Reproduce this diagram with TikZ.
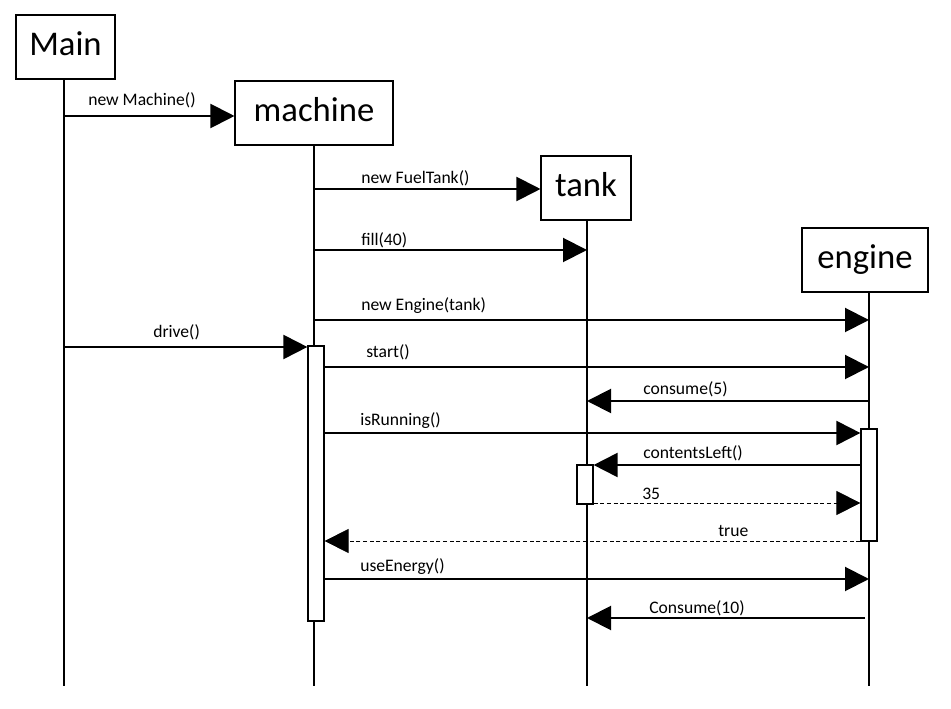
\documentclass[tikz,border=0pt]{standalone}
\usepackage{fontspec}
\setmainfont{Carlito}
\usetikzlibrary{arrows.meta}

\begin{document}
\begin{tikzpicture}[x=0.75pt,y=0.75pt,yscale=-1,xscale=1,
    obj/.style={draw, line width=0.8pt, inner sep=0pt, minimum height=48pt, text height=18pt, text depth=4.5pt, font=\fontsize{26}{30}\selectfont},
    act/.style={draw, line width=0.9pt, fill=white, inner sep=0pt, minimum width=12pt},
    life/.style={line width=1.3pt},
    msg/.style={line width=1.5pt, -{Triangle[length=18pt,width=18pt]}},
    reply/.style={line width=0.6pt, dash pattern=on 3pt off 2pt, -{Triangle[length=18pt,width=18pt]}},
    lbl/.style={anchor=base west, inner sep=0pt, font=\fontsize{13.2}{15}\selectfont}]

    \useasboundingbox (0,0) rectangle (951,709);

    % Objects
    \node [obj, minimum width=74.25pt] (Main) at (65.5,47) {Main};
    \node [obj, minimum width=118.5pt] (machine) at (314,113) {machine};
    \node [obj, minimum width=67.5pt] (tank) at (586,188) {tank};
    \node [obj, minimum width=94.5pt] (engine) at (865,260) {engine};

    % Lifelines
    \coordinate (mainL) at (64,686);
    \coordinate (machL) at (314,686);
    \coordinate (tankL) at (587,686);
    \coordinate (engL) at (869,686);
    \draw [life] (mainL |- Main.south) -- (mainL);
    \draw [life] (machL |- machine.south) -- (machL);
    \draw [life, line width=1pt] (tankL |- tank.south) -- (tankL);
    \draw [life, line width=1pt] (engL |- engine.south) -- (engL);

    % Activations
    \node [act, minimum height=206.25pt] (machAct) at (316,483.5) {};
    \node [act, minimum height=84pt] (engAct) at (869,485) {};
    \node [act, minimum height=29.25pt] (tankAct) at (585,484.5) {};

    % Messages
    \draw [msg] (mainL |- 0,116) -- (machine.west |- 0,116);
    \draw (88,106) node [lbl] {new Machine()};
    \draw [msg] (machL |- 0,189) -- (tank.west |- 0,189);
    \draw (361,184) node [lbl] {new FuelTank()};
    \draw [msg] (machL |- 0,250) -- (tankL |- 0,250);
    \draw (361,246) node [lbl] {fill(40)};
    \draw [msg] (machL |- 0,320) -- (engL |- 0,320);
    \draw (361,311) node [lbl] {new Engine(tank)};
    \draw [msg] (mainL |- 0,347) -- (machAct.west |- 0,347);
    \draw (153,338) node [lbl] {drive()};
    \draw [msg] (machAct.east |- 0,367) -- (engL |- 0,367);
    \draw (366,358) node [lbl] {start()};
    \draw [msg] (engL |- 0,401) -- (tankL |- 0,401);
    \draw (643,395) node [lbl] {consume(5)};
    \draw [msg] (machAct.east |- 0,433) -- (engAct.west |- 0,433);
    \draw (360,426) node [lbl] {isRunning()};
    \draw [msg] (engAct.west |- 0,465) -- (tankAct.east |- 0,465);
    \draw (643,459) node [lbl] {contentsLeft()};
    \draw [reply] (tankAct.east |- 0,503) -- (engAct.west |- 0,503);
    \draw (642,500) node [lbl] {35};
    \draw [reply] (engAct.west |- 0,541) -- (machAct.east |- 0,541);
    \draw (718,537) node [lbl] {true};
    \draw [msg] (machAct.east |- 0,579) -- (engL |- 0,579);
    \draw (360,572) node [lbl] {useEnergy()};
    \draw [msg] (865,618) -- (tankL |- 0,618);
    \draw (649,614) node [lbl] {Consume(10)};
\end{tikzpicture}
\end{document}
